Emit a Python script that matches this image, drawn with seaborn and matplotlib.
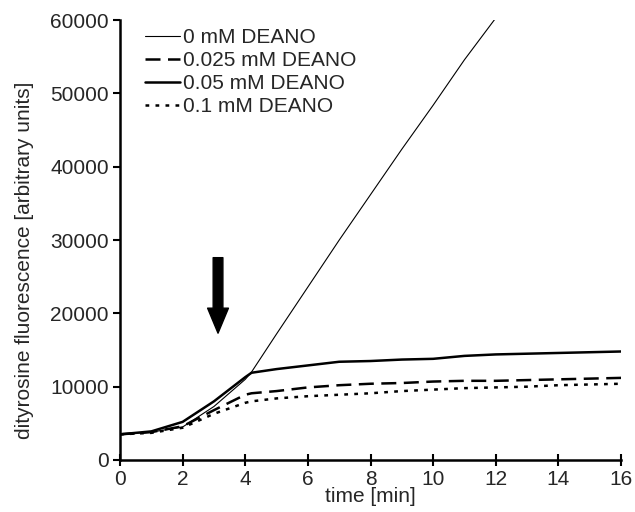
import matplotlib
matplotlib.use("Agg")
import matplotlib.pyplot as plt
import seaborn as sns
import pandas as pd

# time points [min]
time_0 = [0, 1, 2, 3, 4, 4.2, 5, 6, 7, 8, 9, 10, 11, 12]
deano_0 = [3500, 3800, 4500, 7300, 11000, 12000, 17200, 23600, 30000, 36200, 42400, 48400, 54600, 60300]

time = [0, 1, 2, 3, 4, 4.2, 5, 6, 7, 8, 9, 10, 11, 12, 13, 14, 15, 16]
deano_005 = [3500, 3900, 5200, 8000, 11300, 11900, 12400, 12900, 13400, 13500, 13700, 13800, 14200, 14400, 14500, 14600, 14700, 14800]
deano_0025 = [3500, 3800, 4600, 6800, 8900, 9100, 9400, 9900, 10200, 10400, 10500, 10700, 10800, 10800, 10900, 11000, 11100, 11200]
deano_01 = [3500, 3700, 4400, 6300, 7800, 8000, 8400, 8700, 8900, 9100, 9400, 9600, 9800, 9900, 10000, 10200, 10300, 10400]

sns.set_theme(style="ticks")
plt.rcParams['font.family'] = ['Liberation Sans', 'DejaVu Sans']

fig = plt.figure(figsize=(6.35, 5.12), dpi=100)
ax = fig.add_axes([0.189, 0.1016, 0.789, 0.859])

series = [
    ("0 mM DEANO", time_0, deano_0, "-", 0.8),
    ("0.025 mM DEANO", time, deano_0025, (0, (6, 3)), 1.8),
    ("0.05 mM DEANO", time, deano_005, "-", 1.8),
    ("0.1 mM DEANO", time, deano_01, (0, (1.5, 2.5)), 1.8),
]
for label, t, v, ls, lw in series:
    df = pd.DataFrame({"time": t, "value": v})
    sns.lineplot(data=df, x="time", y="value", ax=ax, color="black",
                 linestyle=ls, linewidth=lw, label=label)

ax.set_xlim(0, 16)
ax.set_ylim(0, 60000)
ax.set_xticks(range(0, 17, 2))
ax.set_yticks(range(0, 60001, 10000))
ax.set_xlabel("time [min]", fontsize=15, labelpad=-1)
ax.set_ylabel("dityrosine fluorescence [arbitrary units]", fontsize=15)
ax.yaxis.set_label_coords(-0.172, 0.455)
ax.tick_params(axis='both', labelsize=15, color='black', width=1.5, length=5, pad=3)
ax.tick_params(axis='x', direction='inout', length=8)
for s in ['top', 'right']:
    ax.spines[s].set_visible(False)
for s in ['left', 'bottom']:
    ax.spines[s].set_linewidth(1.8)
    ax.spines[s].set_color('black')

ax.annotate('', xy=(3.13, 17300), xytext=(3.13, 27600),
            arrowprops=dict(facecolor='black', edgecolor='black',
                            width=7, headwidth=15, headlength=18))

leg = ax.legend(loc='upper left', bbox_to_anchor=(0.012, 1.025), frameon=False,
                fontsize=15, handlelength=1.7, handletextpad=0.15,
                labelspacing=0.2)

fig.savefig("out.png", dpi=100)
